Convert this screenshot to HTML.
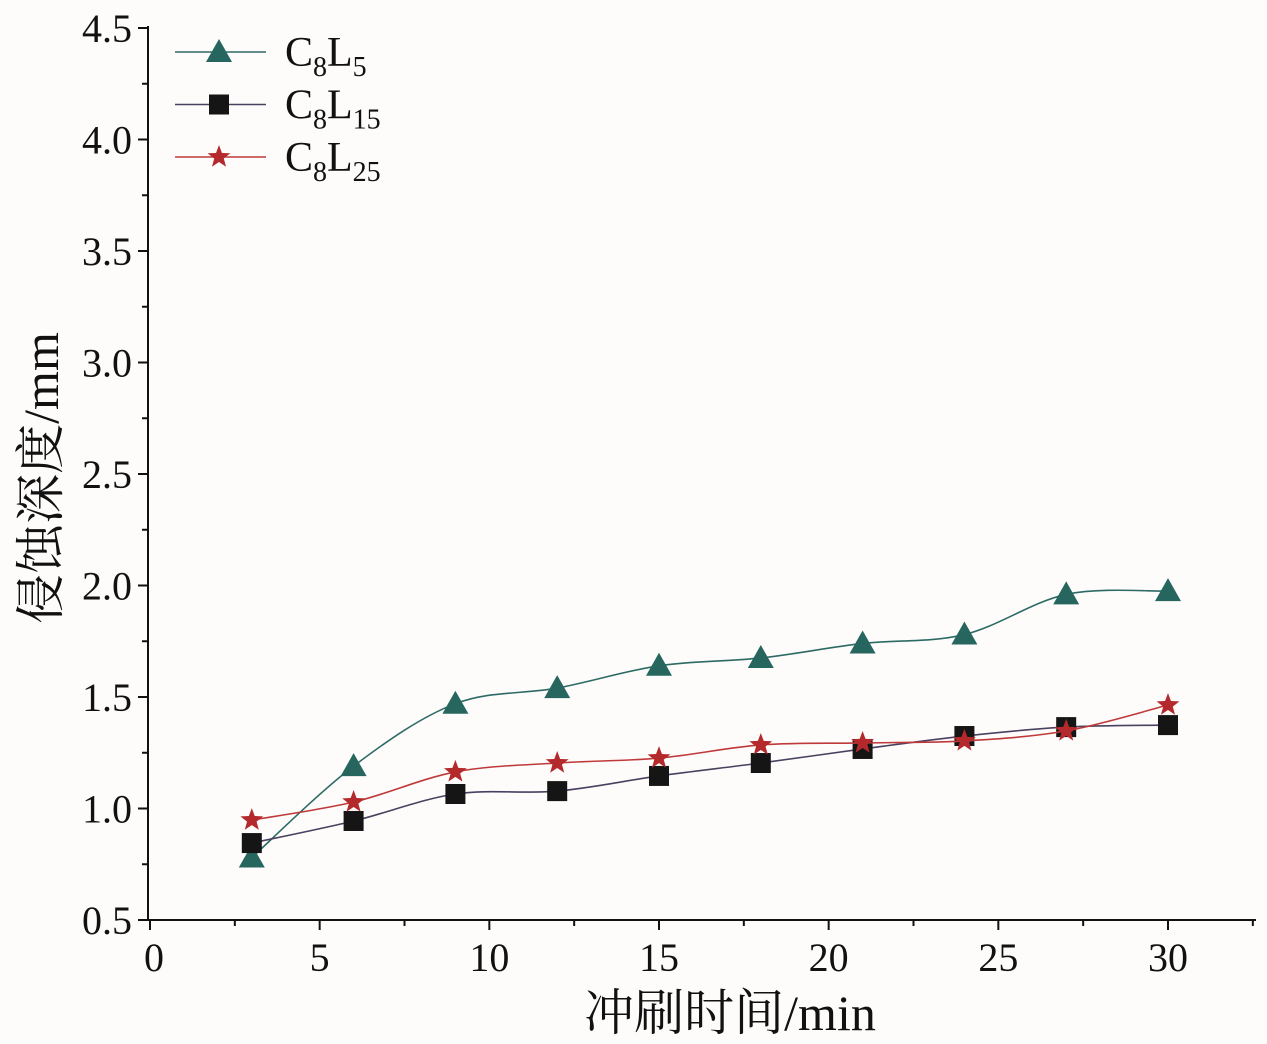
<!DOCTYPE html>
<html><head><meta charset="utf-8"><style>
body{margin:0;background:#fff}
svg{display:block}
text{font-family:"Liberation Serif","Noto Serif CJK SC",serif;fill:#111}
</style></head><body>
<svg id="chart" width="1267" height="1044" viewBox="0 0 1267 1044">
<rect width="1267" height="1044" fill="#fdfcfb"/>
<g id="axes"></g><g id="series"></g><g id="legend"></g>
</svg>
<script>
const times=[3,6,9,12,15,18,21,24,27,30];
const c8l5=[0.78,1.19,1.47,1.54,1.64,1.675,1.74,1.78,1.96,1.975];
const c8l15=[0.845,0.944,1.065,1.078,1.146,1.204,1.267,1.325,1.365,1.374];
const c8l25=[0.948,1.029,1.164,1.204,1.226,1.285,1.294,1.303,1.348,1.464];
const xTicks=[0,5,10,15,20,25,30];
const yTicks=[0.5,1.0,1.5,2.0,2.5,3.0,3.5,4.0,4.5];
const NS="http://www.w3.org/2000/svg";
const X=v=>150+v*(1018/30);
const Y=v=>920-(v-0.5)*(892/4);
function mk(tag,attrs,parent){const e=document.createElementNS(NS,tag);for(const k in attrs)e.setAttribute(k,attrs[k]);parent.appendChild(e);return e;}
const axes=document.getElementById('axes');
let l=mk('line',{x1:148,y1:920,x2:1256,y2:920,stroke:'#111','stroke-width':2},axes);


l=mk('line',{x1:148,y1:26,x2:148,y2:921,stroke:'#111','stroke-width':2},axes);


xTicks.forEach(t=>{
 mk('line',{x1:X(t),y1:920,x2:X(t),y2:930,stroke:'#111','stroke-width':2},axes);
 if(t<30) mk('line',{x1:X(t+2.5),y1:920,x2:X(t+2.5),y2:926,stroke:'#111','stroke-width':2},axes);
 const tx=mk('text',{x:X(t)+(t===0?4:0),y:971,'font-size':40,'text-anchor':'middle'},axes);tx.textContent=t;
 
 
});
mk('line',{x1:X(32.5),y1:920,x2:X(32.5),y2:926,stroke:'#111','stroke-width':2},axes);
yTicks.forEach(t=>{
 mk('line',{x1:138,y1:Y(t),x2:148,y2:Y(t),stroke:'#111','stroke-width':2},axes);
 if(t<4.5) mk('line',{x1:142,y1:Y(t+0.25),x2:148,y2:Y(t+0.25),stroke:'#111','stroke-width':2},axes);
 const tx=mk('text',{x:132,y:Y(t)+14,'font-size':40,'text-anchor':'end'},axes);tx.textContent=t.toFixed(1);
 
 
});
let xt=mk('text',{x:730,y:1030,'font-size':50,'text-anchor':'middle'},axes);xt.textContent='冲刷时间/min';


let yt=mk('text',{x:0,y:0,'font-size':50,'text-anchor':'middle',transform:'translate(58,478) rotate(-90)'},axes);yt.textContent='侵蚀深度/mm';


function smooth(pts){let d=`M${pts[0][0]},${pts[0][1]}`;for(let i=0;i<pts.length-1;i++){const p0=pts[i-1]||pts[i],p1=pts[i],p2=pts[i+1],p3=pts[i+2]||p2;
 d+=` C${p1[0]+(p2[0]-p0[0])/6},${p1[1]+(p2[1]-p0[1])/6} ${p2[0]-(p3[0]-p1[0])/6},${p2[1]-(p3[1]-p1[1])/6} ${p2[0]},${p2[1]}`;}return d;}
function marker(type,cx,cy,g,color){
 if(type==='tri') return mk('polygon',{points:`${cx},${cy-13} ${cx-13},${cy+10} ${cx+13},${cy+10}`,fill:color},g);
 if(type==='sq') return mk('rect',{x:cx-10,y:cy-10,width:20,height:20,fill:color},g);
 let p=[];for(let i=0;i<10;i++){const r=i%2?5:12,a=-Math.PI/2+i*Math.PI/5;p.push(`${cx+r*Math.cos(a)},${cy+r*Math.sin(a)}`);}
 return mk('polygon',{points:p.join(' '),fill:color},g);
}
const defs=[[c8l5,'#2e6a64','#26665f','tri','c8l5'],[c8l15,'#4a4060','#151515','sq','c8l15'],[c8l25,'#c0393a','#b42a2c','star','c8l25']];
const sg=document.getElementById('series');
defs.forEach(([vals,lc,mc,type,name])=>{
 const g=mk('g',{},sg);
 
 
 const pts=times.map((t,i)=>[X(t),Y(vals[i])]);
 const p=mk('path',{d:smooth(pts),fill:'none',stroke:lc,'stroke-width':1.6},g);
 
 
 pts.forEach(q=>{const m=marker(type,q[0],q[1],g,mc);
  
  });
});
const lg=document.getElementById('legend');
const subs=['5','15','25'];
defs.forEach(([vals,lc,mc,type,name],i)=>{
 const y=52+i*52.5;
 const g=mk('g',{},lg);
 
 
 mk('line',{x1:175,y1:y,x2:266,y2:y,stroke:lc,'stroke-width':1.6},g);
 marker(type,219,y,g,mc);
 const t=mk('text',{x:285,y:y+14,'font-size':42},g);
 t.innerHTML=`C<tspan font-size="28" dy="10">8</tspan><tspan dy="-10">L</tspan><tspan font-size="28" dy="10">${subs[i]}</tspan>`;
});
</script>
</body></html>
